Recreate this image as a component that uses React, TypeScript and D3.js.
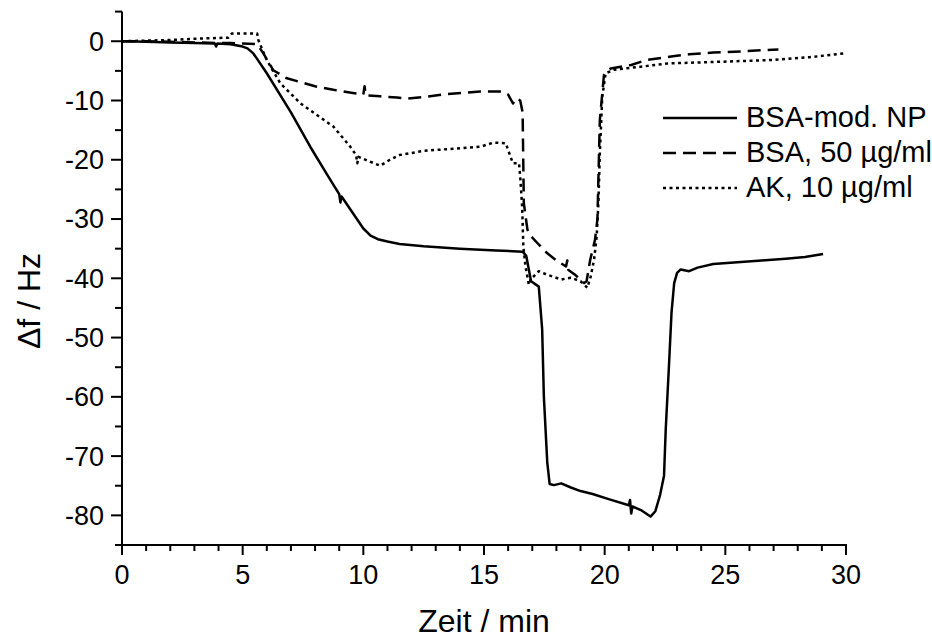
import React from "react";
import * as d3 from "d3";

// Time (min) and frequency shift (Hz) for each series
const bsaNpT = [0, 1, 2, 3, 3.85, 3.9, 3.95, 4.5, 5.0, 5.2, 5.45, 6.0, 7.0, 7.8, 8.5, 9.0, 9.05, 9.1, 9.5, 10.0, 10.3, 10.6, 11.0, 11.5, 12.5, 14.0, 15.5, 16.6, 16.75, 16.95, 17.27, 17.41, 17.48, 17.62, 17.72, 17.9, 18.2, 18.6, 19.0, 19.5, 20.2, 21.0, 21.05, 21.1, 21.15, 21.5, 21.9, 22.1, 22.3, 22.46, 22.53, 22.67, 22.77, 22.88, 23.0, 23.15, 23.5, 23.85, 24.5, 25.5, 26.5, 27.5, 28.3, 29.05];
const bsaNpF = [0, -0.1, -0.2, -0.3, -0.4, -0.9, -0.4, -0.5, -0.9, -1.2, -2.1, -5.4, -12, -17.8, -22.5, -25.8, -27.2, -26.2, -28.6, -31.6, -32.8, -33.4, -33.8, -34.2, -34.6, -35.0, -35.3, -35.5, -36.2, -40.5, -41.4, -48.6, -59.9, -71.0, -74.7, -74.9, -74.6, -75.3, -75.9, -76.4, -77.3, -78.3, -77.4, -79.7, -78.5, -79.1, -80.2, -79.3, -76.5, -73.3, -65.5, -54.3, -45.8, -40.8, -39.1, -38.5, -38.8, -38.2, -37.6, -37.3, -37.0, -36.7, -36.4, -35.9];

const bsaT = [0, 1, 2, 3, 4, 4.5, 5.0, 5.6, 5.85, 6.27, 6.8, 7.4, 8.0, 8.76, 9.5, 10.0, 10.05, 10.1, 10.7, 11.4, 11.8, 12.5, 13.5, 14.85, 15.76, 16.0, 16.2, 16.35, 16.5, 16.6, 16.65, 16.8, 16.9, 17.2, 17.6, 18.0, 18.4, 18.45, 18.5, 18.8, 19.15, 19.25, 19.4, 19.6, 19.7, 19.8, 19.97, 20.25, 21.1, 21.7, 22.9, 23.5, 24.5, 25.8, 26.6, 27.2];
const bsaF = [0, 0, -0.1, -0.2, -0.3, -0.3, -0.4, -0.5, -2.0, -4.9, -6.2, -6.9, -7.6, -8.2, -8.7, -9.0, -7.6, -9.1, -9.3, -9.5, -9.7, -9.4, -8.9, -8.5, -8.5, -9.0, -10.5, -9.6, -10.0, -12.0, -27.3, -31.8, -32.7, -34.0, -35.7, -37.0, -38.0, -37.0, -38.6, -39.5, -40.8, -40.5, -36.9, -33.5, -30.0, -13.3, -5.7, -4.6, -4.0, -3.2, -2.5, -2.2, -1.9, -1.7, -1.5, -1.4];

const akT = [0, 1, 2, 3.2, 4.4, 4.55, 5.6, 5.65, 6.0, 6.56, 7.4, 8.76, 9.46, 9.7, 9.75, 9.8, 10.2, 10.7, 11.1, 11.5, 12.5, 13.5, 14.85, 15.4, 15.9, 16.1, 16.2, 16.45, 16.5, 16.58, 16.63, 16.72, 16.86, 16.93, 17.27, 17.62, 18.2, 18.6, 19.0, 19.28, 19.42, 19.56, 19.67, 19.74, 19.8, 19.9, 20.04, 20.4, 21.5, 22.6, 24.5, 26.75, 28.5, 30.0];
const akF = [0, 0.1, 0.2, 0.45, 0.6, 1.3, 1.3, 0.2, -3.2, -7.1, -10.5, -14.4, -17.8, -19.2, -20.6, -19.5, -20.2, -21.0, -20.0, -19.2, -18.5, -18.2, -17.8, -17.1, -17.2, -19.5, -20.6, -20.6, -22.8, -27.9, -34.6, -38.0, -41.1, -40.2, -38.8, -39.4, -40.2, -39.9, -40.5, -41.6, -39.7, -36.9, -32.9, -27.3, -18.9, -9.4, -5.4, -4.8, -4.3, -3.75, -3.5, -3.2, -2.7, -2.0];

const seriesNames = ["BSA-mod. NP", "BSA, 50 µg/ml", "AK, 10 µg/ml"];
const seriesDash = ["none", "13,7", "3,3.5"];

const xMajorTicks = [0, 5, 10, 15, 20, 25, 30];
const yMajorTicks = [0, -10, -20, -30, -40, -50, -60, -70, -80];

const FONT = "Arial, 'Liberation Sans', Helvetica, sans-serif";

export default function App() {
  const W = 932, H = 641;
  const x = d3.scaleLinear().domain([0, 30]).range([122, 846]);
  const y = d3.scaleLinear().domain([-85, 5]).range([545, 11.6]);

  const series = [
    d3.zip(bsaNpT, bsaNpF),
    d3.zip(bsaT, bsaF),
    d3.zip(akT, akF),
  ] as [number, number][][];

  const line = d3.line<[number, number]>().x(d => x(d[0])).y(d => y(d[1]));

  const xMinor = d3.range(0, 31, 1).filter(v => v % 5 !== 0);
  const yMinor = d3.range(-85, 6, 5).filter(v => v % 10 !== 0);

  return (
    <svg width={W} height={H} style={{ position: "absolute", left: 0, top: 0, background: "#fff" }} fontFamily={FONT}>
      <rect x={0} y={0} width={W} height={H} fill="#fff" />
      {series.map((s, i) => (
        <path key={i} d={line(s) || ""} fill="none" stroke="#000" strokeWidth={2.5}
          strokeDasharray={seriesDash[i]} strokeLinejoin="round" />
      ))}
      {/* axes */}
      <line x1={122} x2={122} y1={y(5)} y2={546} stroke="#000" strokeWidth={2} />
      <line x1={121} x2={x(30) + 1} y1={545} y2={545} stroke="#000" strokeWidth={2} />
      {xMajorTicks.map(v => (
        <g key={"xm" + v}>
          <line x1={x(v)} x2={x(v)} y1={545} y2={555} stroke="#000" strokeWidth={2} />
          <text x={x(v)} y={584} textAnchor="middle" fontSize={27}>{v}</text>
        </g>
      ))}
      {xMinor.map(v => (
        <line key={"xn" + v} x1={x(v)} x2={x(v)} y1={545} y2={551} stroke="#000" strokeWidth={2} />
      ))}
      {yMajorTicks.map(v => (
        <g key={"ym" + v}>
          <line x1={111} x2={122} y1={y(v)} y2={y(v)} stroke="#000" strokeWidth={2} />
          <text x={104} y={y(v)} dy="0.35em" textAnchor="end" fontSize={27}>{v === 0 ? "0" : "-" + Math.abs(v)}</text>
        </g>
      ))}
      {yMinor.map(v => (
        <line key={"yn" + v} x1={115} x2={122} y1={y(v)} y2={y(v)} stroke="#000" strokeWidth={2} />
      ))}
      <text x={484} y={632} textAnchor="middle" fontSize={32}>Zeit / min</text>
      <text transform="translate(40,301) rotate(-90)" textAnchor="middle" fontSize={32}>Δf / Hz</text>
      {/* legend */}
      {seriesNames.map((n, i) => (
        <g key={"lg" + i}>
          <line x1={663} x2={737} y1={118 + i * 35} y2={118 + i * 35} stroke="#000" strokeWidth={2.3}
            strokeDasharray={seriesDash[i]} />
          <text x={746} y={127 + i * 35} fontSize={29}>{n}</text>
        </g>
      ))}
    </svg>
  );
}
